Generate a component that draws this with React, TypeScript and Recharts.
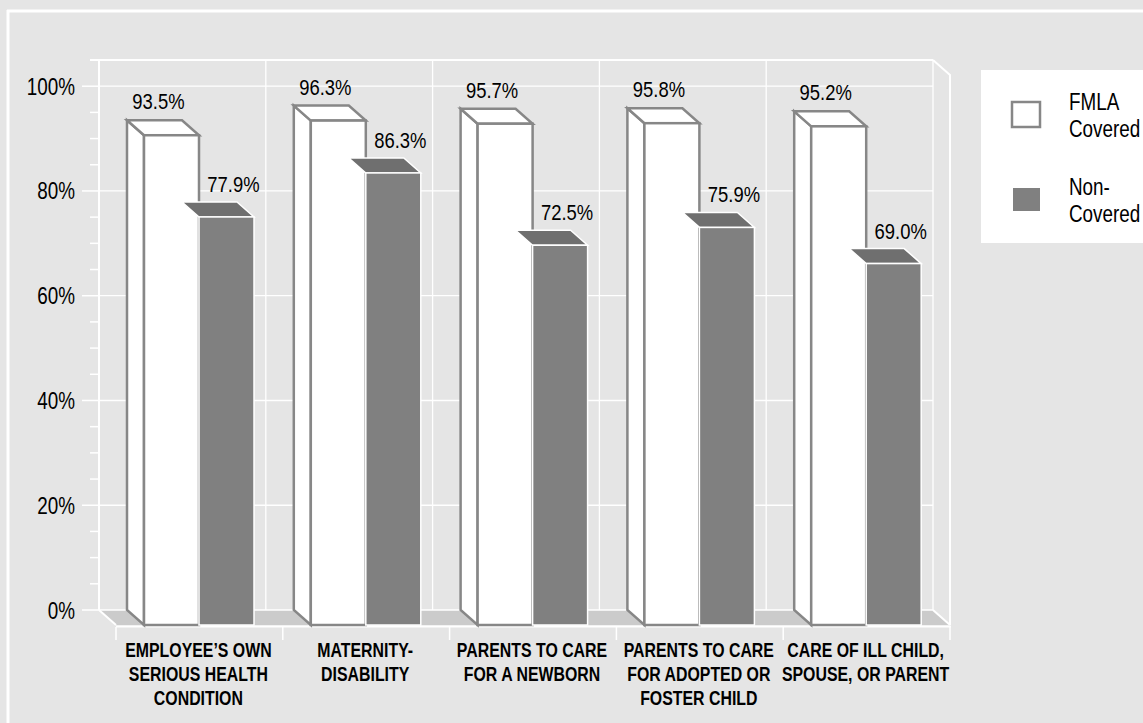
import React from 'react';
import { BarChart, Bar, XAxis, YAxis, CartesianGrid, Legend, LabelList } from 'recharts';

// ---------- data ----------
const CATEGORIES = [
  'EMPLOYEE’S OWN\nSERIOUS HEALTH\nCONDITION',
  'MATERNITY-\nDISABILITY',
  'PARENTS TO CARE\nFOR A NEWBORN',
  'PARENTS TO CARE\nFOR ADOPTED OR\nFOSTER CHILD',
  'CARE OF ILL CHILD,\nSPOUSE, OR PARENT',
];
const FMLA_COVERED = [93.5, 96.3, 95.7, 95.8, 95.2];
const NON_COVERED = [77.9, 86.3, 72.5, 75.9, 69.0];
const SERIES_NAMES = ['FMLA Covered', 'Non-Covered'];
const Y_TICKS = [0, 5, 10, 15, 20, 25, 30, 35, 40, 45, 50, 55, 60, 65, 70, 75, 80, 85, 90, 95, 100];
const Y_MAJOR = [0, 20, 40, 60, 80, 100];
const Y_DOMAIN_MAX = 105;

const data = CATEGORIES.map((c, i) => ({
  category: c,
  fmla: FMLA_COVERED[i],
  non: NON_COVERED[i],
}));

// ---------- layout / style ----------
const W = 1143;
const H = 723;
const PLOT = { left: 99, top: 60, right: 933, bottom: 610 };
const DX = 17;
const DY = 15;
const BG = '#e5e5e5';
const FONT = "'Liberation Sans', Arial, sans-serif";
const NARROW = 0.82;
const TEXT = '#000000';
const BAND_HALF = (PLOT.right - PLOT.left) / CATEGORIES.length / 2;

type NTProps = {
  x: number;
  y: number;
  lines: string[];
  size: number;
  anchor?: 'start' | 'middle' | 'end';
  bold?: boolean;
  lineHeight?: number;
  squeeze?: number;
};
const NarrowText = ({ x, y, lines, size, anchor = 'start', bold = false, lineHeight = 24, squeeze = NARROW }: NTProps) => (
  <g transform={`translate(${x},${y}) scale(${squeeze},1)`}>
    <text
      x={0}
      y={0}
      textAnchor={anchor}
      fontFamily={FONT}
      fontSize={size}
      fontWeight={bold ? 'bold' : 'normal'}
      fill={TEXT}
    >
      {lines.map((l, i) => (
        <tspan key={i} x={0} y={i * lineHeight}>
          {l}
        </tspan>
      ))}
    </text>
  </g>
);

const WhiteBox = (props: any) => {
  const { x, y, width, height } = props;
  if (width == null || height == null) return null;
  const st = { stroke: '#878787', strokeWidth: 2.5, strokeLinejoin: 'miter' as const };
  return (
    <g>
      <polygon
        points={`${x},${y} ${x + DX},${y + DY} ${x + DX},${y + height + DY} ${x},${y + height}`}
        fill="#ffffff"
        {...st}
      />
      <polygon
        points={`${x},${y} ${x + width},${y} ${x + width + DX},${y + DY} ${x + DX},${y + DY}`}
        fill="#ffffff"
        {...st}
      />
      <rect x={x + DX} y={y + DY} width={width} height={height} fill="#ffffff" {...st} />
    </g>
  );
};

const GrayBox = (props: any) => {
  const { x, y, width, height } = props;
  if (width == null || height == null) return null;
  return (
    <g>
      <polygon
        points={`${x},${y} ${x + width},${y} ${x + width + DX},${y + DY} ${x + DX},${y + DY}`}
        fill="#6f6f6f"
        stroke="#ffffff"
        strokeWidth={1.5}
      />
      <rect x={x + DX} y={y + DY} width={width} height={height} fill="#808080" stroke="#ffffff" strokeWidth={1.5} />
    </g>
  );
};

const makeValueLabel = (shift: number, lift: number) => (props: any) => {
  const { x, y, width, value } = props;
  if (value == null) return null;
  return (
    <NarrowText
      x={x + width / 2 + shift}
      y={y - lift}
      lines={[`${Number(value).toFixed(1)}%`]}
      size={22.5}
      anchor="middle"
    />
  );
};

const YTick = (props: any) => {
  const { x, y, payload } = props;
  const v = payload.value;
  const major = Y_MAJOR.includes(v);
  return (
    <g>
      <line x1={x - (major ? 17 : 9)} x2={x} y1={y} y2={y} stroke="#ffffff" strokeWidth={1.5} />
      {major && <NarrowText x={x - 24} y={y + 8.5} lines={[`${v}%`]} size={23} anchor="end" />}
    </g>
  );
};

const CategoryTick = (props: any) => {
  const { x, y, payload, index } = props;
  const half = payload && typeof payload.offset === 'number' && payload.offset > 0 ? payload.offset : BAND_HALF;
  const lines = String(payload.value).split('\n');
  const left = x - half + DX;
  const right = x + half + DX;
  const isLast = index === CATEGORIES.length - 1;
  const cx = x + DX - 1;
  return (
    <g>
      <line x1={left} x2={left} y1={y + 17} y2={y + 30} stroke="#ffffff" strokeWidth={1.5} />
      {isLast && <line x1={right} x2={right} y1={y + 17} y2={y + 30} stroke="#ffffff" strokeWidth={1.5} />}
      <NarrowText x={cx} y={y + 47} lines={lines} size={20.5} bold anchor="middle" lineHeight={24} squeeze={0.775} />
    </g>
  );
};

const splitName = (name: string) => name.replace(/-/g, '-\n').split(/\n| /).filter((s) => s.length > 0);

const LegendContent = (props: any) => {
  const payload = props.payload || [];
  return (
    <svg width={162} height={173} style={{ display: 'block' }}>
      <rect x={0} y={0} width={162} height={173} fill="#ffffff" />
      {payload.map((entry: any, i: number) => {
        const off = i * 85;
        const lines = splitName(String(entry.value));
        return (
          <g key={i}>
            {i === 0 ? (
              <rect x={31} y={32 + off} width={28} height={25} fill="#ffffff" stroke="#878787" strokeWidth={2.5} />
            ) : (
              <rect x={32} y={33 + off} width={27} height={23} fill="#808080" />
            )}
            <NarrowText x={88} y={40 + off} lines={lines} size={23} lineHeight={27} />
          </g>
        );
      })}
    </svg>
  );
};

const Background = () => (
  <svg width={W} height={H} style={{ position: 'absolute', left: 0, top: 0 }}>
    <rect x={0} y={0} width={W} height={H} fill={BG} />
    <line x1={7} x2={W} y1={11} y2={11} stroke="#ffffff" strokeWidth={3} />
    <line x1={8} x2={8} y1={10} y2={H} stroke="#ffffff" strokeWidth={3} />
    {/* floor */}
    <polygon
      points={`${PLOT.left},${PLOT.bottom} ${PLOT.right},${PLOT.bottom} ${PLOT.right + DX},${PLOT.bottom + DY} ${PLOT.left + DX},${PLOT.bottom + DY}`}
      fill="#cbcbcb"
    />
    <line x1={PLOT.left} y1={PLOT.bottom} x2={PLOT.left + DX} y2={PLOT.bottom + DY} stroke="#ffffff" strokeWidth={2} />
    <line x1={PLOT.right} y1={PLOT.bottom} x2={PLOT.right + DX} y2={PLOT.bottom + DY} stroke="#ffffff" strokeWidth={2} />
    <line x1={PLOT.left + DX} y1={PLOT.bottom + DY + 1.5} x2={PLOT.right + DX + 1} y2={PLOT.bottom + DY + 1.5} stroke="#ffffff" strokeWidth={2} />
    {/* back wall top and right wall */}
    <line x1={PLOT.left - 9} y1={PLOT.top} x2={PLOT.right} y2={PLOT.top} stroke="#ffffff" strokeWidth={2} />
    <polyline
      points={`${PLOT.right},${PLOT.top} ${PLOT.right + DX},${PLOT.top + DY} ${PLOT.right + DX},${PLOT.bottom + DY}`}
      fill="none"
      stroke="#ffffff"
      strokeWidth={2}
    />
  </svg>
);

export default function App() {
  return (
    <div style={{ position: 'absolute', left: 0, top: 0, width: W, height: H, background: BG, overflow: 'hidden' }}>
      <Background />
      <div style={{ position: 'absolute', left: 0, top: 0 }}>
        <BarChart
          width={W}
          height={H}
          data={data}
          margin={{ top: PLOT.top, right: W - PLOT.right, left: 0, bottom: 13 }}
          barGap={0}
          barSize={55}
        >
          <CartesianGrid
            stroke="#ffffff"
            strokeWidth={1.3}
            horizontalValues={Y_MAJOR}
            verticalCoordinatesGenerator={({ offset }: any) =>
              CATEGORIES.map((_, i) => offset.left + (i * offset.width) / CATEGORIES.length).concat(offset.left + offset.width)
            }
          />
          <XAxis
            dataKey="category"
            height={100}
            interval={0}
            axisLine={false}
            tickLine={false}
            tickSize={0}
            tickMargin={0}
            tick={(p: any) => <CategoryTick {...p} />}
          />
          <YAxis
            type="number"
            width={PLOT.left}
            domain={[0, Y_DOMAIN_MAX]}
            ticks={Y_TICKS}
            interval={0}
            axisLine={{ stroke: '#ffffff', strokeWidth: 2 }}
            tickLine={false}
            tickSize={0}
            tickMargin={0}
            tick={(p: any) => <YTick {...p} />}
          />
          <Legend
            layout="vertical"
            align="center"
            verticalAlign="middle"
            content={(p: any) => <LegendContent {...p} />}
            wrapperStyle={{ left: 981, top: 70, width: 162, height: 173 }}
          />
          <Bar
            dataKey="fmla"
            name={SERIES_NAMES[0]}
            fill="#ffffff"
            stroke="#878787"
            isAnimationActive={false}
            shape={(p: any) => <WhiteBox {...p} />}
          >
            <LabelList dataKey="fmla" content={makeValueLabel(4, 11)} />
          </Bar>
          <Bar
            dataKey="non"
            name={SERIES_NAMES[1]}
            fill="#808080"
            isAnimationActive={false}
            shape={(p: any) => <GrayBox {...p} />}
          >
            <LabelList dataKey="non" content={makeValueLabel(24, 10)} />
          </Bar>
        </BarChart>
      </div>
    </div>
  );
}
